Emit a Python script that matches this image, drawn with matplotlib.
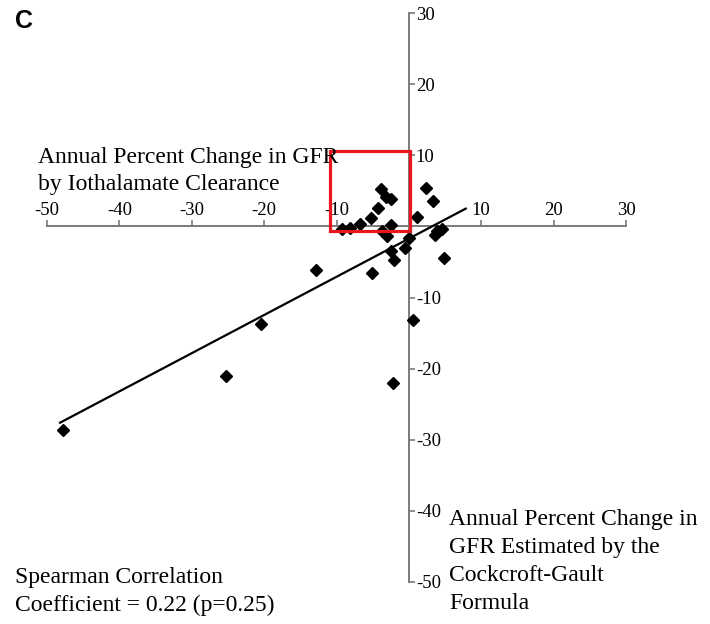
import matplotlib
matplotlib.use("Agg")
import matplotlib.pyplot as plt
from matplotlib.patches import Rectangle

# annual % change in GFR: Cockcroft-Gault estimate (x) vs iothalamate clearance (y)
cg_change = [-47.8, -25.3, -20.4, -12.9, -5.1, -2.2, 0.6,
             -3.9, -3.1, -2.5, -4.2, -5.2, -6.7, -8.1, -9.2,
             -2.5, -3.7, -3.0, 0.0, 1.1, 2.3, 3.3,
             -2.5, -2.1, -0.6, 3.9, 4.6, 3.6, 4.8]
iot_change = [-28.6, -21.0, -13.7, -6.2, -6.6, -22.0, -13.2,
              5.2, 4.1, 3.8, 2.6, 1.2, 0.4, -0.2, -0.4,
              0.2, -0.7, -1.4, -1.6, 1.3, 5.4, 3.5,
              -3.5, -4.7, -3.1, -0.7, -0.4, -1.2, -4.5]

# least-squares line as reported
fit_slope = 0.537
fit_intercept = -1.72
fit_x = [-48.2, 7.85]

# highlighted region
box_x = (-10.9, 0.1)
box_y = (-0.7, 10.6)

x_ticks = [-50, -40, -30, -20, -10, 10, 20, 30]
y_ticks = [30, 20, 10, -10, -20, -30, -40, -50]

W, H = 710, 624
fig = plt.figure(figsize=(W / 100, H / 100), dpi=100)
ax = fig.add_axes([47 / W, 1 - 582 / H, (626 - 47) / W, (582 - 13) / H])
ax.set_xlim(-50, 30)
ax.set_ylim(-50, 30)
ax.patch.set_visible(False)

axis_color = "#7a7a7a"
for side in ("bottom", "left"):
    ax.spines[side].set_visible(False)
for side in ("top", "right"):
    ax.spines[side].set_position("zero")
    ax.spines[side].set_color(axis_color)
    ax.spines[side].set_linewidth(1.4)

serif = "Liberation Serif"
ax.xaxis.set_ticks_position("top")
ax.yaxis.set_ticks_position("right")
ax.set_xticks(x_ticks)
ax.set_yticks(y_ticks)
ax.set_xticklabels([str(t) for t in x_ticks], fontfamily=serif, fontsize=13.5)
ax.set_yticklabels([str(t) for t in y_ticks], fontfamily=serif, fontsize=13.5)
ax.tick_params(direction="out", length=4, width=1.2, color=axis_color, pad=1)

# points and fitted line
ax.plot(cg_change, iot_change, linestyle="none", marker="D", markersize=6,
        color="black", zorder=3)
fit_y = [fit_slope * x + fit_intercept for x in fit_x]
ax.plot(fit_x, fit_y, color="black", linewidth=1.6, zorder=3)

ax.add_patch(Rectangle((box_x[0], box_y[0]), box_x[1] - box_x[0], box_y[1] - box_y[0],
                       fill=False, edgecolor="#e8161e", linewidth=2.3, zorder=5,
                       clip_on=False))


def put(px, py, s, **kw):
    fig.text(px / W, 1 - py / H, s, va="center", ha="left", **kw)


put(15, 21, "C", fontfamily="Liberation Sans", fontweight="bold", fontsize=18)
put(38, 157, "Annual Percent Change in GFR", fontfamily=serif, fontsize=17)
put(38, 184, "by Iothalamate Clearance", fontfamily=serif, fontsize=17)
for i, line in enumerate(["Annual Percent Change in", "GFR Estimated by the",
                          "Cockcroft-Gault", "Formula"]):
    put(449, 519 + 28.3 * i, line, fontfamily=serif, fontsize=17)
put(15, 578, "Spearman Correlation", fontfamily=serif, fontsize=17)
put(15, 605, "Coefficient = 0.22 (p=0.25)", fontfamily=serif, fontsize=17)

fig.savefig("out.png", dpi=100)
